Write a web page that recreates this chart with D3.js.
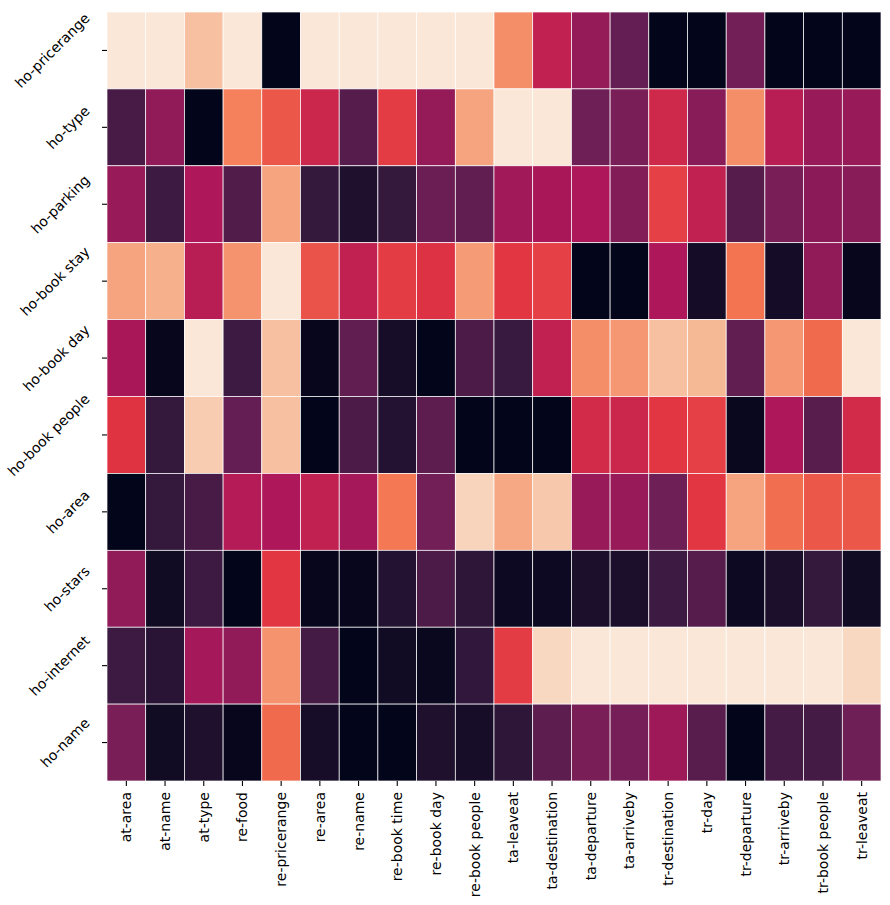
<!DOCTYPE html>
<html>
<head>
<meta charset="utf-8">
<script src="https://cdn.jsdelivr.net/npm/d3@7"></script>
<style>
  body { margin: 0; background: #fff; }
  text { font-family: "DejaVu Sans", sans-serif; }
</style>
</head>
<body>
<script>
const rows = ['ho-pricerange', 'ho-type', 'ho-parking', 'ho-book stay', 'ho-book day',
    'ho-book people', 'ho-area', 'ho-stars', 'ho-internet', 'ho-name'];

const cols = ['at-area', 'at-name', 'at-type', 're-food', 're-pricerange', 're-area', 're-name',
    're-book time', 're-book day', 're-book people', 'ta-leaveat', 'ta-destination', 'ta-departure',
    'ta-arriveby', 'tr-destination', 'tr-day', 'tr-departure', 'tr-arriveby', 'tr-book people', 'tr-leaveat'];

// one array per row, values in column order
const hoPricerange = [0.99, 0.99, 0.89, 0.99, 0.0, 0.99, 0.99, 0.99, 0.99, 0.99, 0.77, 0.48, 0.37, 0.26, 0.0, 0.0, 0.29, 0.0, 0.0, 0.0];
const hoType = [0.19, 0.36, 0.0, 0.74, 0.65, 0.51, 0.22, 0.59, 0.37, 0.82, 0.99, 0.99, 0.28, 0.31, 0.52, 0.34, 0.77, 0.46, 0.38, 0.38];
const hoParking = [0.38, 0.16, 0.43, 0.21, 0.82, 0.14, 0.08, 0.14, 0.27, 0.25, 0.40, 0.42, 0.43, 0.33, 0.60, 0.48, 0.22, 0.31, 0.35, 0.34];
const hoBookStay = [0.82, 0.85, 0.46, 0.78, 0.99, 0.64, 0.48, 0.59, 0.56, 0.80, 0.58, 0.60, 0.0, 0.0, 0.43, 0.05, 0.71, 0.05, 0.36, 0.01];
const hoBookDay = [0.42, 0.01, 0.99, 0.16, 0.89, 0.01, 0.25, 0.06, 0.0, 0.20, 0.15, 0.48, 0.77, 0.79, 0.89, 0.87, 0.25, 0.79, 0.69, 0.99];
const hoBookPeople = [0.57, 0.14, 0.92, 0.26, 0.89, 0.0, 0.20, 0.09, 0.24, 0.0, 0.0, 0.0, 0.53, 0.51, 0.58, 0.60, 0.02, 0.43, 0.23, 0.53];
const hoArea = [0.0, 0.14, 0.19, 0.45, 0.43, 0.48, 0.41, 0.72, 0.29, 0.94, 0.83, 0.91, 0.38, 0.38, 0.28, 0.58, 0.82, 0.70, 0.65, 0.65];
const hoStars = [0.36, 0.04, 0.16, 0.0, 0.58, 0.01, 0.01, 0.09, 0.20, 0.12, 0.03, 0.03, 0.07, 0.07, 0.16, 0.22, 0.03, 0.07, 0.14, 0.04];
const hoInternet = [0.16, 0.11, 0.41, 0.36, 0.78, 0.18, 0.0, 0.04, 0.02, 0.13, 0.59, 0.95, 0.99, 0.99, 0.99, 0.99, 0.99, 0.99, 0.99, 0.95];
const hoName = [0.31, 0.04, 0.08, 0.01, 0.69, 0.06, 0.0, 0.0, 0.08, 0.06, 0.12, 0.24, 0.31, 0.30, 0.39, 0.23, 0.0, 0.18, 0.18, 0.28];

const matrix = [hoPricerange, hoType, hoParking, hoBookStay, hoBookDay,
    hoBookPeople, hoArea, hoStars, hoInternet, hoName];

// seaborn "rocket" colormap stops
const rocket = ['#03051a', '#35193e', '#701f57', '#ad1759', '#e13342', '#f37651', '#f6b48f', '#faebdd'];

const width = 890;
const height = 905;
const margin = { left: 107, right: 9, top: 12, bottom: 124 };

const cells = [];
matrix.forEach((vals, i) => {
    vals.forEach((v, j) => cells.push({ row: rows[i], col: cols[j], value: v }));
});

const x = d3.scaleBand().domain(cols).range([margin.left, width - margin.right]);
const y = d3.scaleBand().domain(rows).range([margin.top, height - margin.bottom]);
const color = d3.scaleSequential(d3.piecewise(d3.interpolateRgb, rocket)).domain([0, 1]);

const svg = d3.select('body').append('svg')
    .attr('width', width)
    .attr('height', height);

svg.append('g')
    .selectAll('rect')
    .data(cells)
    .join('rect')
    .attr('x', d => x(d.col))
    .attr('y', d => y(d.row))
    .attr('width', x.bandwidth())
    .attr('height', y.bandwidth())
    .attr('fill', d => color(d.value))
    .attr('stroke', 'white')
    .attr('stroke-width', 0.7);

const fontSize = 14;

// x axis
const xAxis = svg.append('g')
    .attr('transform', `translate(0, ${height - margin.bottom})`)
    .call(d3.axisBottom(x).tickSize(5).tickSizeOuter(0));
xAxis.select('.domain').remove();
xAxis.selectAll('.tick line').attr('stroke', 'black').attr('stroke-width', 1.1);
xAxis.selectAll('.tick text')
    .attr('font-size', fontSize)
    .attr('fill', 'black')
    .attr('text-anchor', 'end')
    .attr('dominant-baseline', 'central')
    .attr('x', 0)
    .attr('y', 0)
    .attr('dy', null)
    .attr('transform', 'translate(0, 11) rotate(-90)');

// y axis
const yAxis = svg.append('g')
    .attr('transform', `translate(${margin.left}, 0)`)
    .call(d3.axisLeft(y).tickSize(5).tickSizeOuter(0));
yAxis.select('.domain').remove();
yAxis.selectAll('.tick line').attr('stroke', 'black').attr('stroke-width', 1.1);
yAxis.selectAll('.tick text')
    .attr('font-size', fontSize)
    .attr('fill', 'black')
    .attr('text-anchor', 'middle')
    .attr('dominant-baseline', 'central')
    .attr('x', 0)
    .attr('dy', null)
    .each(function() {
        const L = this.getComputedTextLength();
        const half = (L + fontSize) * Math.SQRT1_2 / 2;
        const cx = -15 - half;
        d3.select(this).attr('transform', `translate(${cx}, 0) rotate(-45)`);
    });
</script>
</body>
</html>
